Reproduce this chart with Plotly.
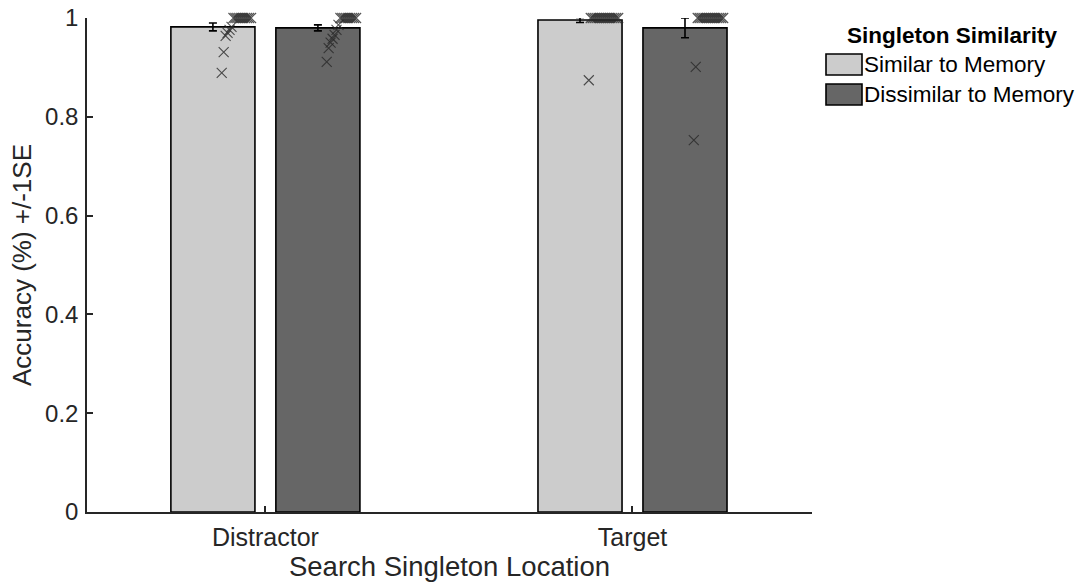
import numpy as np
import plotly.graph_objects as go

# --- data -------------------------------------------------------------
locations = ["Distractor", "Target"]
conditions = ["Similar to Memory", "Dissimilar to Memory"]

mean_similar = [0.982, 0.996]
mean_dissimilar = [0.980, 0.980]
se_similar = [0.008, 0.005]
se_dissimilar = [0.006, 0.020]

# per-participant accuracies
dist_similar = [0.889, 0.931, 0.964, 0.970, 0.976, 0.982] + [1.0] * 10
dist_dissimilar = [0.911, 0.939, 0.950, 0.958, 0.966, 0.976, 0.986] + [1.0] * 9
targ_similar = [0.874] + [1.0] * 15
targ_dissimilar = [0.753, 0.901] + [1.0] * 14

# --- styling ----------------------------------------------------------
FILL = ["#cccccc", "#666666"]
TXT = "#262626"
FONT = "Liberation Sans, Arial, sans-serif"
W, H = 1087, 588
L, R, T, B = 87, 275, 18, 76

shift = 0.143       # half distance between paired bars
bar_w = 0.229
jit_start, jit_span = 0.024, 0.080

fig = go.Figure()
groups = np.arange(1, len(locations) + 1)

for i, (means, ses, name) in enumerate(
        [(mean_similar, se_similar, conditions[0]),
         (mean_dissimilar, se_dissimilar, conditions[1])]):
    xs = groups + (-shift if i == 0 else shift)
    fig.add_trace(go.Bar(
        x=xs, y=means, width=bar_w, name=name,
        marker=dict(color=FILL[i], line=dict(color="#000000", width=1.6)),
        error_y=dict(type="data", array=ses, visible=True,
                     color="#000000", thickness=1.6, width=4),
        showlegend=False,
    ))

# individual participants, spread rightwards by rank
participants = [(dist_similar, 0, 0), (dist_dissimilar, 0, 1),
                (targ_similar, 1, 0), (targ_dissimilar, 1, 1)]
for vals, g, c in participants:
    v = np.sort(np.array(vals))
    n = len(v)
    base = groups[g] + (-shift if c == 0 else shift)
    xs = base + jit_start + np.arange(n) * (jit_span / (n - 1))
    fig.add_trace(go.Scatter(
        x=xs, y=v, mode="markers", cliponaxis=False, showlegend=False,
        marker=dict(symbol="x-thin", size=10,
                    line=dict(width=1.1, color="rgba(40,40,40,0.8)")),
    ))

# --- legend drawn in pixel space --------------------------------------
def px_x(p):
    return (p - L) / (W - L - R)

def px_y(p):
    return (H - B - p) / (H - B - T)

fig.add_annotation(x=px_x(952), y=px_y(35), xref="paper", yref="paper",
                   xanchor="center", yanchor="middle",
                   text="<b>Singleton Similarity</b>", showarrow=False,
                   font=dict(size=22.5, color="#000000", family=FONT))
for k, (cond, col) in enumerate(zip(conditions, FILL)):
    top = 54 + k * 30
    fig.add_shape(type="rect", xref="paper", yref="paper",
                  x0=px_x(826), x1=px_x(862), y0=px_y(top), y1=px_y(top + 21),
                  fillcolor=col, line=dict(color="#000000", width=1.6))
    fig.add_annotation(x=px_x(862), y=px_y(top + 11), xref="paper", yref="paper",
                       text=cond, showarrow=False, xanchor="left", yanchor="middle",
                       font=dict(size=22.5, color="#000000", family=FONT))

fig.update_layout(
    width=W, height=H,
    margin=dict(l=L, r=R, t=T, b=B, autoexpand=False),
    paper_bgcolor="white", plot_bgcolor="white",
    barmode="overlay",
    font=dict(family=FONT, color=TXT),
    xaxis=dict(
        range=[0.514, 2.489], tickmode="array", tickvals=list(groups),
        ticktext=locations, ticks="inside", ticklen=6, tickwidth=1.5,
        tickcolor=TXT, showline=True, linecolor=TXT, linewidth=1.5,
        showgrid=False, zeroline=False, tickfont=dict(size=25, color=TXT),
        automargin=False, ticklabelstandoff=2,
        title=dict(text="Search Singleton Location", font=dict(size=27.5, color=TXT),
                   standoff=3),
    ),
    yaxis=dict(
        range=[0, 1], tickvals=[0, 0.2, 0.4, 0.6, 0.8, 1],
        ticktext=["0", "0.2", "0.4", "0.6", "0.8", "1"],
        ticks="inside", ticklen=6, tickwidth=1.5, tickcolor=TXT,
        showline=True, linecolor=TXT, linewidth=1.5, showgrid=False,
        zeroline=False, tickfont=dict(size=24, color=TXT),
        automargin=False, ticklabelstandoff=2,
        title=dict(text="Accuracy (%) +/-1SE", font=dict(size=26, color=TXT),
                   standoff=6),
    ),
)

fig.write_html("out.html")
